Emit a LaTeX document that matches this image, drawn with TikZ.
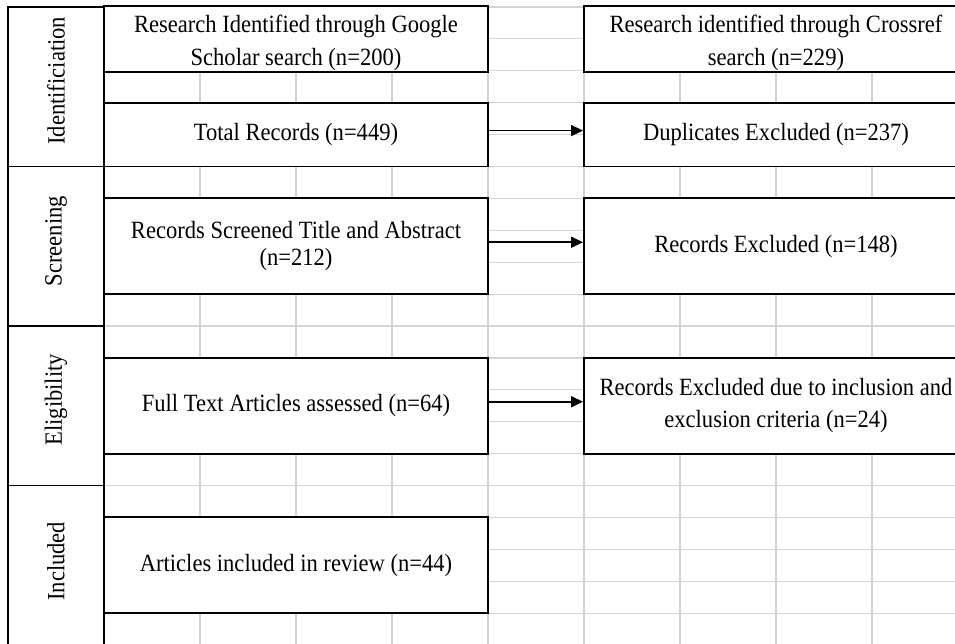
\documentclass[tikz,border=0pt]{standalone}
\usepackage{fontspec}
\setmainfont{Liberation Serif}[FakeStretch=0.91]
\usetikzlibrary{arrows.meta}
\definecolor{gridgray}{RGB}{212,212,212}
\begin{document}
\begin{tikzpicture}[x=1pt,y=-1pt,
  gridline/.style={draw=gridgray, line width=1.2pt},
  box/.style={draw=black, line width=1.9pt, fill=white, minimum width=384pt, inner sep=0pt, align=center, font=\fontsize{24.8}{32.5}\selectfont},
  stagebox/.style={draw=black, line width=1.9pt, fill=white, minimum width=96pt, minimum height=159.5pt, inner sep=0pt},
  stagelabel/.style={rotate=90, inner sep=0pt, font=\fontsize{24.8}{32}\selectfont},
  arr/.style={-{Triangle[length=12pt,width=11pt]}, line width=1.5pt}]
\useasboundingbox (0,0) rectangle (955,644);
\clip (0,0) rectangle (955,644);
% spreadsheet grid
\foreach \k in {0,...,10} \draw[gridline] ({8+96*\k},7) -- ({8+96*\k},650);
\foreach \k in {0,...,20} \draw[gridline] (8,{7+31.9*\k}) -- (960,{7+31.9*\k});
% stage boxes
\node[stagebox] (sid) at (56,86.75) {};
\node[stagelabel] (lid) at ([yshift=6pt]sid.center) {Identificiation};
\node[stagebox] (ssc) at (56,246.25) {};
\node[stagelabel] (lsc) at ([yshift=5pt]ssc.center) {Screening};
\node[stagebox] (sel) at (56,405.75) {};
\node[stagelabel] (lel) at ([yshift=6pt]sel.center) {Eligibility};
\node[stagebox] (sin) at (56,565.25) {};
\node[stagelabel] (lin) at ([yshift=4pt]sin.center) {Included};
% flow boxes
\node[box, minimum height=63.8pt] (google) at (296,38.9) {\raisebox{-4pt}[\height][\depth]{\begin{tabular}{@{}c@{}}Research Identified through Google\\[0.5pt]Scholar search (n=200)\end{tabular}}};
\node[box, minimum height=63.8pt] (crossref) at (776,38.9) {\raisebox{-4pt}[\height][\depth]{\begin{tabular}{@{}c@{}}Research identified through Crossref\\[0.5pt]search (n=229)\end{tabular}}};
\node[box, minimum height=63.8pt] (total) at (296,134.6) {Total Records (n=449)};
\node[box, minimum height=63.8pt] (dup) at (776,134.6) {Duplicates Excluded (n=237)};
\node[box, minimum height=95.7pt, font=\fontsize{24.8}{27.5}\selectfont] (screened) at (296,246.25) {Records Screened Title and Abstract\\(n=212)};
\node[box, minimum height=95.7pt] (excl) at (776,246.25) {Records Excluded (n=148)};
\node[box, minimum height=95.7pt] (full) at (296,405.75) {Full Text Articles assessed (n=64)};
\node[box, minimum height=95.7pt] (excl2) at (776,405.75) {Records Excluded due to inclusion and\\exclusion criteria (n=24)};
\node[box, minimum height=95.7pt] (incl) at (296,565.25) {Articles included in review (n=44)};
% connectors
\draw[arr] ([yshift=4pt]total.east) -- ([yshift=4pt]dup.west);
\draw[arr] ([yshift=4pt]screened.east) -- ([yshift=4pt]excl.west);
\draw[arr] ([yshift=4pt]full.east) -- ([yshift=4pt]excl2.west);
\end{tikzpicture}
\end{document}
